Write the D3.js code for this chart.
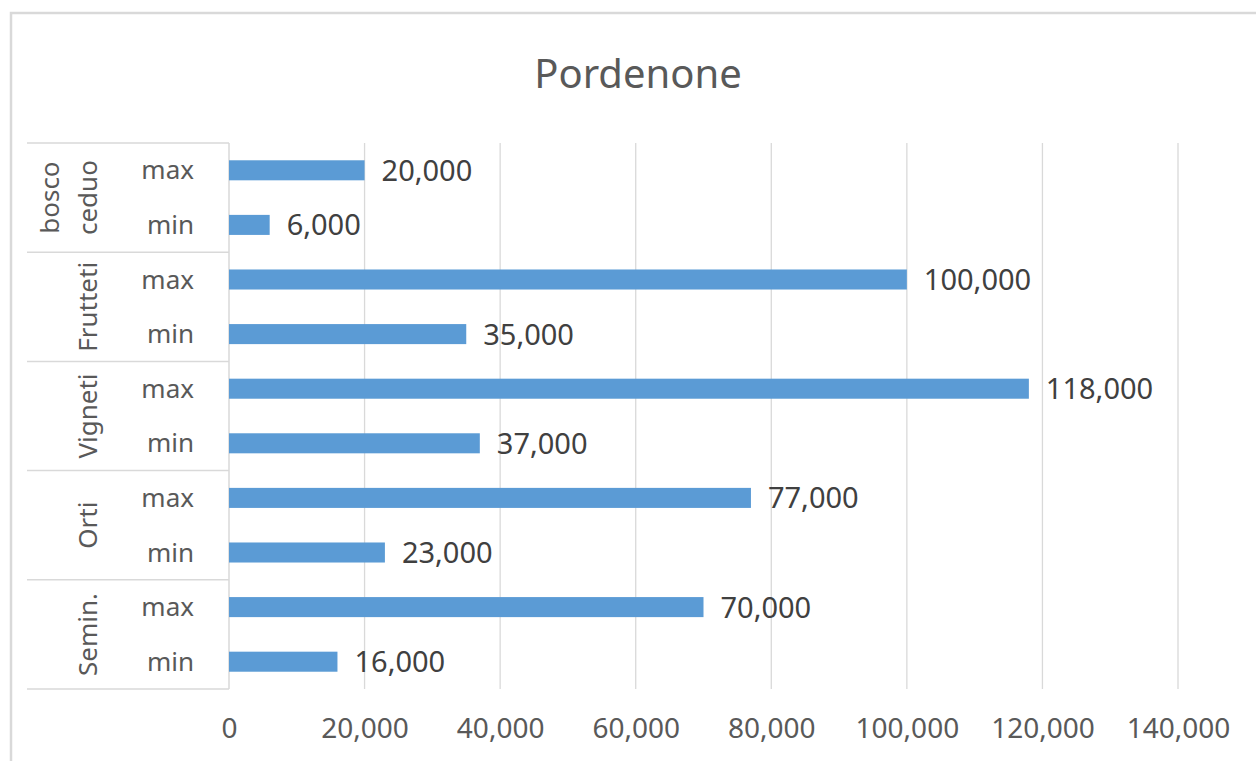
<!DOCTYPE html>
<html>
<head>
<meta charset="utf-8">
<script src="https://cdn.jsdelivr.net/npm/d3@7"></script>
<style>
  body { margin: 0; background: #fff; }
  svg { display: block; font-family: "Noto Sans", "Open Sans", sans-serif; }
</style>
</head>
<body>
<div id="chart"></div>
<script>
// data
const groups = ["bosco ceduo", "Frutteti", "Vigneti", "Orti", "Semin."];
const levels = ["max", "min"];
const maxValues = [20000, 100000, 118000, 77000, 70000];
const minValues = [6000, 35000, 37000, 23000, 16000];
const xTicks = [0, 20000, 40000, 60000, 80000, 100000, 120000, 140000];

const width = 1256, height = 761;
const plot = {left: 229, right: 1178, top: 143, bottom: 689};
const tableLeft = 27;
const textColor = "#595959";

// flatten groups x levels into rows
const rows = [];
groups.forEach((g, i) => {
  rows.push({group: g, level: levels[0], value: maxValues[i], key: g + "|max"});
  rows.push({group: g, level: levels[1], value: minValues[i], key: g + "|min"});
});

const svg = d3.select("#chart").append("svg")
  .attr("width", width)
  .attr("height", height);

// chart border
svg.append("rect")
  .attr("x", 11).attr("y", 13)
  .attr("width", 1260).attr("height", 760)
  .attr("fill", "none")
  .attr("stroke", "#d9d9d9")
  .attr("stroke-width", 2.5);

svg.append("text")
  .attr("x", 638).attr("y", 88)
  .attr("text-anchor", "middle")
  .attr("font-size", 40)
  .attr("fill", textColor)
  .text("Pordenone");

const x = d3.scaleLinear()
  .domain([0, 140000])
  .range([plot.left, plot.right]);

const y = d3.scaleBand()
  .domain(rows.map(d => d.key))
  .range([plot.top, plot.bottom])
  .paddingInner(0.633)
  .paddingOuter(0.3165);

const yGroup = d3.scaleBand()
  .domain(groups)
  .range([plot.top, plot.bottom]);

// vertical gridlines
svg.append("g")
  .selectAll("line")
  .data(xTicks.slice(1))
  .join("line")
    .attr("x1", d => x(d)).attr("x2", d => x(d))
    .attr("y1", plot.top).attr("y2", plot.bottom)
    .attr("stroke", "#d9d9d9")
    .attr("stroke-width", 1.3);

// category table lines
svg.append("g")
  .selectAll("line")
  .data(groups.concat(["end"]))
  .join("line")
    .attr("x1", tableLeft).attr("x2", plot.left)
    .attr("y1", (d, i) => i < groups.length ? yGroup(d) : plot.bottom)
    .attr("y2", (d, i) => i < groups.length ? yGroup(d) : plot.bottom)
    .attr("stroke", "#d9d9d9")
    .attr("stroke-width", 1.5);

svg.append("line")
  .attr("x1", plot.left).attr("x2", plot.left)
  .attr("y1", plot.top).attr("y2", plot.bottom)
  .attr("stroke", "#d9d9d9")
  .attr("stroke-width", 1.5);

// bars
svg.append("g")
  .selectAll("rect")
  .data(rows)
  .join("rect")
    .attr("x", x(0))
    .attr("y", d => y(d.key))
    .attr("width", d => x(d.value) - x(0))
    .attr("height", y.bandwidth())
    .attr("fill", "#5b9bd5");

// data labels
svg.append("g")
  .selectAll("text")
  .data(rows)
  .join("text")
    .attr("x", d => x(d.value) + 17)
    .attr("y", d => y(d.key) + y.bandwidth() / 2)
    .attr("dy", "0.36em")
    .attr("font-size", 29)
    .attr("fill", "#404040")
    .text(d => d3.format(",")(d.value));

// level labels (max / min)
svg.append("g")
  .selectAll("text")
  .data(rows)
  .join("text")
    .attr("x", 194)
    .attr("y", d => y(d.key) + y.bandwidth() / 2)
    .attr("dy", "0.35em")
    .attr("text-anchor", "end")
    .attr("font-size", 26)
    .attr("fill", textColor)
    .text(d => d.level);

// group labels, rotated
const groupLabel = svg.append("g")
  .selectAll("g")
  .data(groups)
  .join("g")
    .attr("transform", d => `translate(0,${yGroup(d) + yGroup.bandwidth() / 2})`);

groupLabel.each(function(d) {
  const words = d.split(" ");
  const g = d3.select(this);
  words.forEach((w, i) => {
    const cx = 88 - (words.length - 1 - i) * 38;
    g.append("text")
      .attr("transform", `translate(${cx},0) rotate(-90)`)
      .attr("text-anchor", "middle")
      .attr("dy", "0.35em")
      .attr("font-size", 26)
      .attr("fill", textColor)
      .text(w);
  });
});

// x axis
svg.append("g")
  .attr("transform", `translate(0,${plot.bottom})`)
  .call(d3.axisBottom(x)
    .tickValues(xTicks)
    .tickFormat(d3.format(","))
    .tickSize(0)
    .tickPadding(29))
  .call(g => g.select(".domain").remove())
  .call(g => g.selectAll("text")
    .attr("font-size", 28)
    .attr("font-family", "Noto Sans, Open Sans, sans-serif")
    .attr("fill", textColor));
</script>
</body>
</html>
